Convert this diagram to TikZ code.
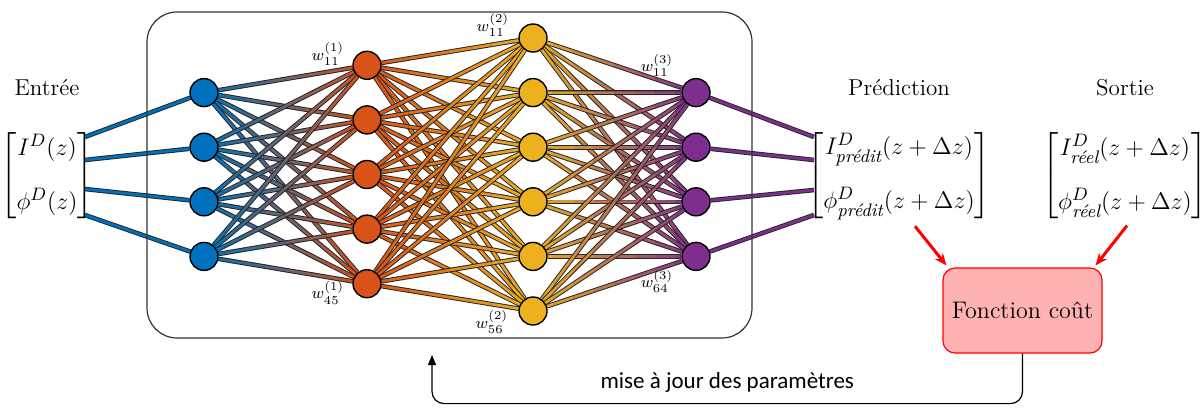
\documentclass[tikz,border=0pt]{standalone}
\usepackage{amsmath}
\usepackage{fontspec}
\newfontfamily\calibrifont{Carlito}
\usetikzlibrary{positioning}
\usetikzlibrary{calc}
\usetikzlibrary{arrows.meta}
\usetikzlibrary{backgrounds}

\definecolor{nnblue}{RGB}{0,114,189}
\definecolor{nnorange}{RGB}{217,83,25}
\definecolor{nnyellow}{RGB}{237,177,32}
\definecolor{nnpurple}{RGB}{126,47,142}
\definecolor{coutfill}{RGB}{255,178,178}

% edge with a colour gradient from #3 to #4
\newcommand{\gradedge}[4]{%
  \draw[edgeback] (#1) -- (#2);
  \foreach \k in {0,...,7}{%
    \pgfmathsetmacro\ka{\k/8}%
    \pgfmathsetmacro\kb{(\k+1)/8}%
    \pgfmathtruncatemacro\pc{(\k+0.5)*12.5}%
    \draw[edgefront, color=#4!\pc!#3] ($(#1)!\ka!(#2)$) -- ($(#1)!\kb!(#2)$);
  }%
}

\begin{document}
\begin{tikzpicture}[
        x=0.5pt, y=-0.5pt,
        neuron/.style={circle, draw=black, line width=0.7pt, minimum size=14pt, inner sep=0pt},
        edgeback/.style={line width=2.3pt, black!85},
        edgefront/.style={line width=1.35pt},
        wlab/.style={font=\footnotesize, inner sep=0pt},
        vec/.style={inner sep=0pt, font=\fontsize{13}{16}\selectfont},
        title/.style={inner sep=0pt, font=\fontsize{11.5}{14}\selectfont},
        netbox/.style={draw=black!80, line width=0.6pt, rounded corners=15pt, minimum width=302.5pt, minimum height=163pt},
        coutbox/.style={draw=red, fill=coutfill, line width=0.6pt, rounded corners=6pt, minimum width=79.5pt, minimum height=42.5pt, font=\fontsize{12}{14}\selectfont},
        redarrow/.style={-{Stealth[length=6pt, width=5pt]}, red, line width=1.5pt},
        feedback/.style={-{Triangle[length=5pt, width=4pt]}, line width=0.6pt, rounded corners=6pt}
        ]
        \useasboundingbox (0,0) rectangle (1203,407);

        % Nodes
        \node[netbox] (net) at (449.5,175) {};

        \foreach \i in {1,...,4}
            \node[neuron, fill=nnblue] (l1-\i) at (204,{174.5+(\i-2.5)*54.6}) {};
        \foreach \i in {1,...,5}
            \node[neuron, fill=nnorange] (l2-\i) at (367,{174.5+(\i-3)*54.6}) {};
        \foreach \i in {1,...,6}
            \node[neuron, fill=nnyellow] (l3-\i) at (533,{174.5+(\i-3.5)*54.6}) {};
        \foreach \i in {1,...,4}
            \node[neuron, fill=nnpurple] (l4-\i) at (696,{174.5+(\i-2.5)*54.6}) {};

        \node[vec] (entree) at (47,176) {$\begin{bmatrix} I^{D}(z)\\[11pt] \phi^{D}(z)\end{bmatrix}$};
        \node[vec] (pred) at (899,176) {$\begin{bmatrix} I^{D}_{\text{\itshape prédit}}(z+\Delta z)\\[11pt] \phi^{D}_{\text{\itshape prédit}}(z+\Delta z)\end{bmatrix}$};
        \node[vec] (sortie) at (1125,176) {$\begin{bmatrix} I^{D}_{\text{\itshape réel}}(z+\Delta z)\\[11pt] \phi^{D}_{\text{\itshape réel}}(z+\Delta z)\end{bmatrix}$};

        \node[title, above=18pt of entree] (tentree) {Entrée};
        \node[title, above=18pt of pred] (tpred) {Prédiction};
        \node[title, above=18pt of sortie] (tsortie) {Sortie};

        \node[coutbox] (cout) at (1022.5,310.5) {Fonction coût};
        \coordinate (majend) at (432,355);

        % Weights
        \node[wlab] (w1a) at ($(l2-1)+(-39,-11)$) {$w^{(1)}_{11}$};
        \node[wlab] (w1b) at ($(l2-5)+(-39,9)$) {$w^{(1)}_{45}$};
        \node[wlab] (w2a) at ($(l3-1)+(-40,-13)$) {$w^{(2)}_{11}$};
        \node[wlab] (w2b) at ($(l3-6)+(-41,11)$) {$w^{(2)}_{56}$};
        \node[wlab] (w3a) at ($(l4-1)+(-39,-27)$) {$w^{(3)}_{11}$};
        \node[wlab] (w3b) at ($(l4-4)+(-39,25)$) {$w^{(3)}_{64}$};

        % Connections
        \begin{scope}[on background layer]
            \foreach \i/\dy in {1/-39,2/-16,3/13,4/39}{
                \draw[edgeback] ($(entree.east)+(-9,\dy)$) -- (l1-\i);
                \draw[edgefront, nnblue] ($(entree.east)+(-9,\dy)$) -- (l1-\i);
            }
            \foreach \i in {1,...,4}
                \foreach \j in {1,...,5}
                    {\gradedge{l1-\i}{l2-\j}{nnblue}{nnorange}}
            \foreach \i in {1,...,5}
                \foreach \j in {1,...,6}
                    {\gradedge{l2-\i}{l3-\j}{nnorange}{nnyellow}}
            \foreach \i in {1,...,6}
                \foreach \j in {1,...,4}
                    {\gradedge{l3-\i}{l4-\j}{nnyellow}{nnpurple}}
            \foreach \i/\dy in {1/-39,2/-16,3/14,4/39}{
                \draw[edgeback] (l4-\i) -- ($(pred.west)+(7,\dy)$);
                \draw[edgefront, nnpurple] (l4-\i) -- ($(pred.west)+(7,\dy)$);
            }
        \end{scope}

        % Arrows
        \draw[redarrow] ($(pred.south)+(16,6)$) -- ($(cout.north west)+(4,-2)$);
        \draw[redarrow] ($(sortie.south)+(2,6)$) -- ($(cout.north east)+(-7,-2)$);
        \draw[feedback] (cout.south) -- ++(0,50) -| node[pos=0.25, above=2pt, font=\calibrifont\fontsize{11.5}{14}\selectfont] (maj) {mise à jour des paramètres} (majend);

    \end{tikzpicture}
\end{document}
